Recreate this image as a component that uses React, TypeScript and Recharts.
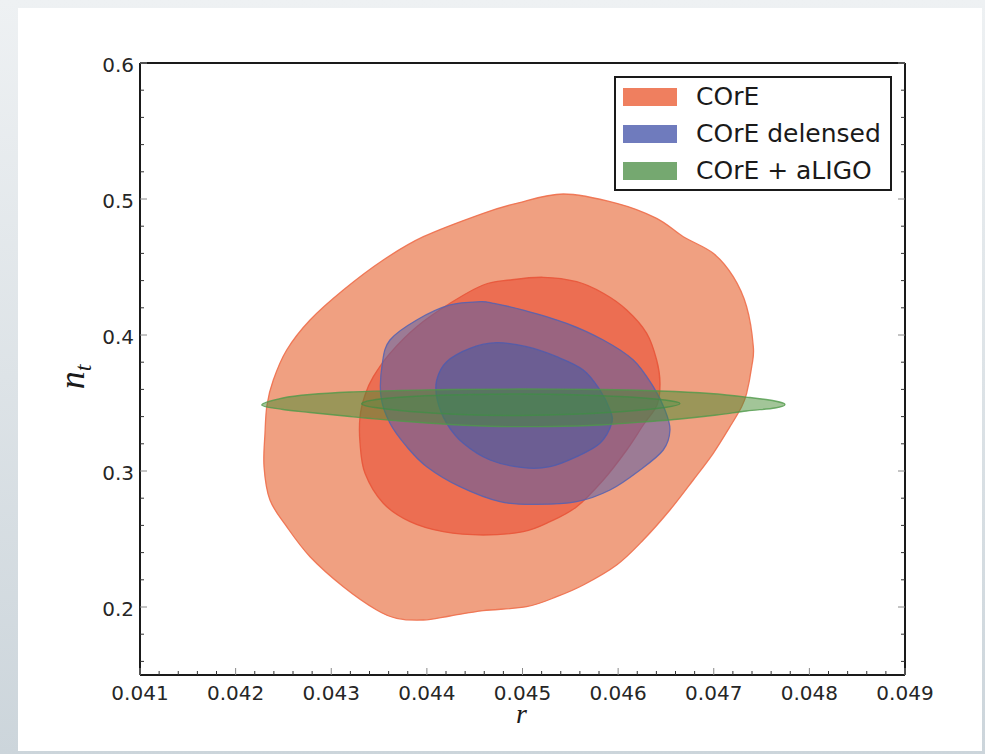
import React from 'react';
import { ScatterChart, Scatter, XAxis, YAxis, Legend } from 'recharts';

// ---- axis ticks ----
const rMajorTicks = [0.041, 0.042, 0.043, 0.044, 0.045, 0.046, 0.047, 0.048, 0.049];
const rMinorTicks = [
  0.0412, 0.0414, 0.0416, 0.0418, 0.0422, 0.0424, 0.0426, 0.0428,
  0.0432, 0.0434, 0.0436, 0.0438, 0.0442, 0.0444, 0.0446, 0.0448,
  0.0452, 0.0454, 0.0456, 0.0458, 0.0462, 0.0464, 0.0466, 0.0468,
  0.0472, 0.0474, 0.0476, 0.0478, 0.0482, 0.0484, 0.0486, 0.0488,
];
const ntMajorTicks = [0.2, 0.3, 0.4, 0.5, 0.6];
const ntMinorTicks = [
  0.16, 0.18, 0.22, 0.24, 0.26, 0.28, 0.32, 0.34, 0.36, 0.38,
  0.42, 0.44, 0.46, 0.48, 0.52, 0.54, 0.56, 0.58,
];
const rDomain = [0.041, 0.049];
const ntDomain = [0.15, 0.6];

// ---- contour boundaries (r, n_t) ----
const coreOuter = [
  { r: 0.045427, nt: 0.50368 }, { r: 0.045985, nt: 0.49684 }, { r: 0.046403, nt: 0.48581 },
  { r: 0.046682, nt: 0.47228 }, { r: 0.046995, nt: 0.46007 }, { r: 0.047204, nt: 0.44287 },
  { r: 0.047344, nt: 0.42081 }, { r: 0.047414, nt: 0.3914 }, { r: 0.047397, nt: 0.37669 },
  { r: 0.047344, nt: 0.35713 }, { r: 0.047292, nt: 0.34728 }, { r: 0.04717, nt: 0.33257 },
  { r: 0.046995, nt: 0.31301 }, { r: 0.046786, nt: 0.29338 }, { r: 0.046542, nt: 0.27132 },
  { r: 0.046263, nt: 0.24926 }, { r: 0.045985, nt: 0.23088 }, { r: 0.045636, nt: 0.21618 },
  { r: 0.045358, nt: 0.20757 }, { r: 0.045044, nt: 0.20022 }, { r: 0.04459, nt: 0.19728 },
  { r: 0.044242, nt: 0.19338 }, { r: 0.043963, nt: 0.19044 }, { r: 0.043684, nt: 0.19169 },
  { r: 0.043475, nt: 0.19779 }, { r: 0.043126, nt: 0.21493 }, { r: 0.042778, nt: 0.23699 },
  { r: 0.042534, nt: 0.25904 }, { r: 0.042359, nt: 0.27868 }, { r: 0.042297, nt: 0.30316 },
  { r: 0.042307, nt: 0.32772 }, { r: 0.042328, nt: 0.34853 }, { r: 0.042394, nt: 0.36691 },
  { r: 0.042534, nt: 0.38897 }, { r: 0.042778, nt: 0.41103 }, { r: 0.043126, nt: 0.43309 },
  { r: 0.043544, nt: 0.45515 }, { r: 0.043963, nt: 0.47228 }, { r: 0.04459, nt: 0.48949 },
  { r: 0.044939, nt: 0.49684 },
];

const coreInner = [
  { r: 0.045218, nt: 0.44243 }, { r: 0.045567, nt: 0.43919 }, { r: 0.045845, nt: 0.43066 },
  { r: 0.04609, nt: 0.41838 }, { r: 0.046299, nt: 0.40125 }, { r: 0.046403, nt: 0.38162 },
  { r: 0.046438, nt: 0.36448 }, { r: 0.046407, nt: 0.34853 }, { r: 0.046263, nt: 0.33382 },
  { r: 0.04609, nt: 0.31544 }, { r: 0.045845, nt: 0.29338 }, { r: 0.045567, nt: 0.27375 },
  { r: 0.045288, nt: 0.26272 }, { r: 0.045008, nt: 0.25537 }, { r: 0.04459, nt: 0.25294 },
  { r: 0.044172, nt: 0.25537 }, { r: 0.043824, nt: 0.26272 }, { r: 0.043544, nt: 0.27625 },
  { r: 0.043353, nt: 0.29831 }, { r: 0.043301, nt: 0.32037 }, { r: 0.043301, nt: 0.33993 },
  { r: 0.043353, nt: 0.35588 }, { r: 0.04344, nt: 0.36934 }, { r: 0.043614, nt: 0.38654 },
  { r: 0.043894, nt: 0.4061 }, { r: 0.044242, nt: 0.42331 }, { r: 0.04459, nt: 0.43676 },
  { r: 0.044869, nt: 0.44044 },
];

const delensedOuter = [
  { r: 0.044556, nt: 0.42449 }, { r: 0.044695, nt: 0.42331 }, { r: 0.045008, nt: 0.41838 },
  { r: 0.045462, nt: 0.4086 }, { r: 0.045845, nt: 0.39632 }, { r: 0.046159, nt: 0.38162 },
  { r: 0.046368, nt: 0.36199 }, { r: 0.04649, nt: 0.34485 }, { r: 0.046542, nt: 0.33015 },
  { r: 0.046472, nt: 0.31544 }, { r: 0.046229, nt: 0.30074 }, { r: 0.045915, nt: 0.28603 },
  { r: 0.045567, nt: 0.27743 }, { r: 0.045148, nt: 0.27551 }, { r: 0.044765, nt: 0.27743 },
  { r: 0.044346, nt: 0.28846 }, { r: 0.043998, nt: 0.30316 }, { r: 0.043789, nt: 0.31787 },
  { r: 0.043614, nt: 0.33507 }, { r: 0.04352, nt: 0.35463 }, { r: 0.043534, nt: 0.37919 },
  { r: 0.043614, nt: 0.39632 }, { r: 0.043894, nt: 0.41103 }, { r: 0.044242, nt: 0.42206 },
];

const delensedInner = [
  { r: 0.04473, nt: 0.39434 }, { r: 0.045044, nt: 0.3914 }, { r: 0.045358, nt: 0.38404 },
  { r: 0.045636, nt: 0.37426 }, { r: 0.04581, nt: 0.35956 }, { r: 0.045915, nt: 0.34485 },
  { r: 0.045933, nt: 0.33507 }, { r: 0.04581, nt: 0.32037 }, { r: 0.045567, nt: 0.31051 },
  { r: 0.045288, nt: 0.30316 }, { r: 0.045008, nt: 0.30243 }, { r: 0.04466, nt: 0.30809 },
  { r: 0.044381, nt: 0.32037 }, { r: 0.044207, nt: 0.33507 }, { r: 0.044109, nt: 0.35221 },
  { r: 0.044103, nt: 0.36691 }, { r: 0.044207, nt: 0.38037 }, { r: 0.044451, nt: 0.39022 },
];

const ligoOuter = [
  { r: 0.042273, nt: 0.34853 }, { r: 0.042495, nt: 0.35368 }, { r: 0.042778, nt: 0.35625 },
  { r: 0.043196, nt: 0.35809 }, { r: 0.043719, nt: 0.35919 }, { r: 0.044242, nt: 0.35993 },
  { r: 0.044974, nt: 0.36029 }, { r: 0.04581, nt: 0.35993 }, { r: 0.046438, nt: 0.35882 },
  { r: 0.046961, nt: 0.35699 }, { r: 0.047379, nt: 0.35404 }, { r: 0.047641, nt: 0.35147 },
  { r: 0.047745, nt: 0.3489 }, { r: 0.047641, nt: 0.34632 }, { r: 0.047344, nt: 0.34412 },
  { r: 0.047031, nt: 0.34118 }, { r: 0.046647, nt: 0.33824 }, { r: 0.046333, nt: 0.3364 },
  { r: 0.04581, nt: 0.33382 }, { r: 0.045288, nt: 0.33272 }, { r: 0.044765, nt: 0.33272 },
  { r: 0.044242, nt: 0.33419 }, { r: 0.043719, nt: 0.33676 }, { r: 0.043196, nt: 0.34007 },
  { r: 0.042778, nt: 0.34301 }, { r: 0.042495, nt: 0.34522 },
];

const ligoInner = [
  { r: 0.043318, nt: 0.34963 }, { r: 0.04351, nt: 0.35294 }, { r: 0.043928, nt: 0.35515 },
  { r: 0.044451, nt: 0.35625 }, { r: 0.044974, nt: 0.35662 }, { r: 0.045601, nt: 0.35588 },
  { r: 0.046124, nt: 0.35441 }, { r: 0.04649, nt: 0.35221 }, { r: 0.046647, nt: 0.34963 },
  { r: 0.04649, nt: 0.34669 }, { r: 0.046124, nt: 0.34412 }, { r: 0.045601, nt: 0.34191 },
  { r: 0.044974, nt: 0.34081 }, { r: 0.044346, nt: 0.34154 }, { r: 0.043824, nt: 0.34375 },
  { r: 0.043458, nt: 0.34669 },
];

// ---- legend ----
const legendNames = ['COrE', 'COrE delensed', 'COrE + aLIGO'];
const legendColors = ['#ef7f5f', '#6f7bbd', '#75a870'];

const FONT = '"DejaVu Sans", Verdana, sans-serif';
const MATH_FONT = '"Liberation Serif", "DejaVu Serif", serif';

const rAllTicks = [...rMajorTicks, ...rMinorTicks];
const ntAllTicks = [...ntMajorTicks, ...ntMinorTicks];
const isMajor = (list: number[], v: number) => list.some((m) => Math.abs(m - v) < 1e-9);

// Smooth closed path (Catmull-Rom) through the pixel points the Scatter computed.
function closedSpline(pts: { x: number; y: number }[]): string {
  const n = pts.length;
  let d = `M${pts[0].x},${pts[0].y}`;
  for (let i = 0; i < n; i++) {
    const p0 = pts[(i - 1 + n) % n];
    const p1 = pts[i];
    const p2 = pts[(i + 1) % n];
    const p3 = pts[(i + 2) % n];
    const c1x = p1.x + (p2.x - p0.x) / 6;
    const c1y = p1.y + (p2.y - p0.y) / 6;
    const c2x = p2.x - (p3.x - p1.x) / 6;
    const c2y = p2.y - (p3.y - p1.y) / 6;
    d += ` C${c1x},${c1y} ${c2x},${c2y} ${p2.x},${p2.y}`;
  }
  return d + ' Z';
}

const ContourPath = (props: any) => {
  const { points, areaFill, areaOpacity, edge, edgeOpacity } = props;
  if (!points || points.length < 3) return null;
  return (
    <path
      d={closedSpline(points)}
      fill={areaFill}
      fillOpacity={areaOpacity}
      stroke={edge}
      strokeOpacity={edgeOpacity}
      strokeWidth={1.3}
    />
  );
};

const NoPoint = () => <g />;

// Inward tick marks (long grey for major, short dark for minor) plus optional value label.
const MAJOR_LEN = 7;
const MINOR_LEN = 4;
const FrameTick = (props: any) => {
  const { x, y, payload, side, majors, labelled, digits } = props;
  const v = payload?.value as number;
  const major = isMajor(majors, v);
  const len = major ? MAJOR_LEN : MINOR_LEN;
  const stroke = major ? '#8a8a8a' : '#333333';
  let line = null;
  if (side === 'bottom') line = <line x1={x} y1={y} x2={x} y2={y - len} stroke={stroke} strokeWidth={1} />;
  if (side === 'top') line = <line x1={x} y1={y} x2={x} y2={y + len} stroke={stroke} strokeWidth={1} />;
  if (side === 'left') line = <line x1={x} y1={y} x2={x + len} y2={y} stroke={stroke} strokeWidth={1} />;
  if (side === 'right') line = <line x1={x} y1={y} x2={x - len} y2={y} stroke={stroke} strokeWidth={1} />;
  let label = null;
  if (labelled && major) {
    if (side === 'bottom') {
      label = (
        <text x={x} y={y + 25} textAnchor="middle" fontFamily={FONT} fontSize={20} fill="#262626">
          {v.toFixed(digits)}
        </text>
      );
    } else if (side === 'left') {
      label = (
        <text x={x - 6} y={y + 9} textAnchor="end" fontFamily={FONT} fontSize={20} fill="#262626">
          {v.toFixed(digits)}
        </text>
      );
    }
  }
  return (
    <g>
      {line}
      {label}
    </g>
  );
};

const LegendBox = () => (
  <div
    style={{
      boxSizing: 'border-box',
      width: 278,
      border: '2px solid #1a1a1a',
      background: '#ffffff',
      fontFamily: FONT,
      fontSize: 25,
      color: '#1a1a1a',
    }}
  >
    {legendNames.map((name, i) => (
      <div key={name} style={{ display: 'flex', alignItems: 'center', height: 37 }}>
        <div style={{ width: 54, height: 18, marginLeft: 7, background: legendColors[i] }} />
        <span style={{ marginLeft: 19, lineHeight: '37px', whiteSpace: 'nowrap' }}>{name}</span>
      </div>
    ))}
  </div>
);

const RLabel = (props: any) => {
  const vb = props.viewBox || { x: 140, y: 675, width: 765, height: 1 };
  const cx = vb.x + vb.width / 2 - 1;
  const base = vb.y + 48;
  return (
    <text x={cx} y={base} textAnchor="middle" fontFamily={MATH_FONT} fontStyle="italic" fontSize={28} fill="#1a1a1a">
      r
    </text>
  );
};

const NtLabel = (props: any) => {
  const vb = props.viewBox || { x: 139, y: 63, width: 1, height: 612 };
  const bx = vb.x + (vb.width || 0) - 56;
  const cy = vb.y + vb.height / 2 + 8;
  return (
    <text
      transform={`translate(${bx},${cy}) rotate(-90)`}
      textAnchor="middle"
      fontFamily={MATH_FONT}
      fontStyle="italic"
      fill="#1a1a1a"
    >
      <tspan fontSize={36}>n</tspan>
      <tspan fontSize={24} dy={7}>t</tspan>
    </text>
  );
};

const frameLine = { stroke: '#1a1a1a', strokeWidth: 2 };

export default function App() {
  return (
    <div
      style={{
        position: 'absolute',
        left: 0,
        top: 0,
        width: 985,
        height: 754,
        background: 'linear-gradient(to bottom, #eef1f3 0%, #dde3e7 50%, #ccd5db 100%)',
        overflow: 'hidden',
      }}
    >
      <div style={{ position: 'absolute', left: 18, top: 8, width: 964, height: 743, background: '#ffffff' }} />
      <div style={{ position: 'absolute', left: 0, top: 0 }}>
        <ScatterChart width={985} height={754} margin={{ top: 62, right: 79, bottom: 78, left: 139 }}>
          <XAxis
            xAxisId="x"
            dataKey="r"
            type="number"
            orientation="bottom"
            domain={rDomain}
            allowDataOverflow
            ticks={rAllTicks}
            interval={0}
            tick={<FrameTick side="bottom" majors={rMajorTicks} labelled digits={3} />}
            tickLine={false}
            tickSize={0}
            tickMargin={0}
            axisLine={frameLine}
            height={1}
            label={<RLabel />}
          />
          <XAxis
            xAxisId="xt"
            type="number"
            orientation="top"
            domain={rDomain}
            allowDataOverflow
            ticks={rAllTicks}
            interval={0}
            tick={<FrameTick side="top" majors={rMajorTicks} />}
            tickLine={false}
            tickSize={0}
            tickMargin={0}
            axisLine={frameLine}
            height={1}
          />
          <YAxis
            yAxisId="y"
            dataKey="nt"
            type="number"
            orientation="left"
            domain={ntDomain}
            allowDataOverflow
            ticks={ntAllTicks}
            interval={0}
            tick={<FrameTick side="left" majors={ntMajorTicks} labelled digits={1} />}
            tickLine={false}
            tickSize={0}
            tickMargin={0}
            axisLine={frameLine}
            width={1}
            label={<NtLabel />}
          />
          <YAxis
            yAxisId="yr"
            type="number"
            orientation="right"
            domain={ntDomain}
            allowDataOverflow
            ticks={ntAllTicks}
            interval={0}
            tick={<FrameTick side="right" majors={ntMajorTicks} />}
            tickLine={false}
            tickSize={0}
            tickMargin={0}
            axisLine={frameLine}
            width={1}
          />

          {/* COrE */}
          <Scatter name="COrE 95%" xAxisId="x" yAxisId="y" data={coreOuter} shape={NoPoint} isAnimationActive={false}
            line={<ContourPath areaFill="#f0a081" areaOpacity={1} edge="#ee6f4d" edgeOpacity={0.9} />} lineType="joint" />
          <Scatter name="COrE 68%" xAxisId="x" yAxisId="y" data={coreInner} shape={NoPoint} isAnimationActive={false}
            line={<ContourPath areaFill="#ec6e52" areaOpacity={1} edge="#e8553a" edgeOpacity={0.9} />} lineType="joint" />
          {/* COrE delensed */}
          <Scatter name="COrE delensed 95%" xAxisId="x" yAxisId="y" data={delensedOuter} shape={NoPoint} isAnimationActive={false}
            line={<ContourPath areaFill="rgb(87,92,166)" areaOpacity={0.55} edge="#5562b2" edgeOpacity={0.85} />} lineType="joint" />
          <Scatter name="COrE delensed 68%" xAxisId="x" yAxisId="y" data={delensedInner} shape={NoPoint} isAnimationActive={false}
            line={<ContourPath areaFill="rgb(78,90,160)" areaOpacity={0.6} edge="#4e5cae" edgeOpacity={0.85} />} lineType="joint" />
          {/* COrE + aLIGO */}
          <Scatter name="COrE + aLIGO 95%" xAxisId="x" yAxisId="y" data={ligoOuter} shape={NoPoint} isAnimationActive={false}
            line={<ContourPath areaFill="rgb(70,140,50)" areaOpacity={0.5} edge="#4f9a4a" edgeOpacity={0.8} />} lineType="joint" />
          <Scatter name="COrE + aLIGO 68%" xAxisId="x" yAxisId="y" data={ligoInner} shape={NoPoint} isAnimationActive={false}
            line={<ContourPath areaFill="rgb(60,145,70)" areaOpacity={0.3} edge="#3f8f45" edgeOpacity={0.7} />} lineType="joint" />

          <Legend
            layout="vertical"
            align="center"
            verticalAlign="middle"
            content={() => <LegendBox />}
            wrapperStyle={{ left: 614, top: 76, width: 278, height: 115 }}
          />
        </ScatterChart>
      </div>
    </div>
  );
}
